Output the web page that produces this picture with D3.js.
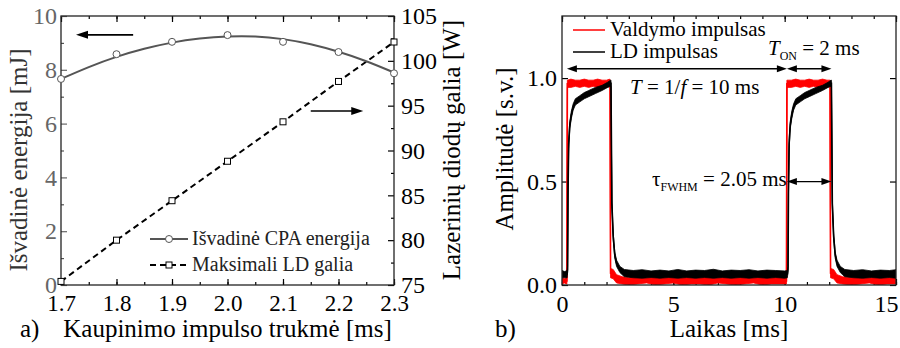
<!DOCTYPE html>
<html>
<head>
<meta charset="utf-8">
<script src="https://cdn.jsdelivr.net/npm/d3@7/dist/d3.min.js"></script>
</head>
<body style="margin:0;background:#fff">
<svg id="fig" width="900" height="348" style="display:block;font-family:'Liberation Serif',serif"></svg>
<script>
// ---------- Panel a: output energy and LD power vs pump pulse duration ----------
const pumpDuration = [1.7, 1.8, 1.9, 2.0, 2.1, 2.2, 2.3];
const cpaEnergy    = [7.66, 8.58, 9.04, 9.29, 9.04, 8.66, 7.87];
const ldPower      = [75.4, 80.0, 84.4, 88.8, 93.2, 97.7, 102.1];
// smooth trend drawn through the energy points
const fitDuration  = [1.70, 1.75, 1.80, 1.85, 1.90, 1.95, 2.00, 2.05, 2.10, 2.15, 2.20, 2.25, 2.30];
const fitEnergy    = [7.66, 8.10, 8.48, 8.78, 9.01, 9.16, 9.24, 9.24, 9.14, 8.95, 8.67, 8.32, 7.90];
const durationTicks = [1.7, 1.8, 1.9, 2.0, 2.1, 2.2, 2.3];
const energyTicks   = [0, 2, 4, 6, 8, 10];
const powerTicks    = [75, 80, 85, 90, 95, 100, 105];
const legendA = ["Išvadinė CPA energija", "Maksimali LD galia"];

// ---------- Panel b: control pulse and LD pulse traces ----------
// each trace is stored as its noise band: time [ms], lower and upper amplitude
const ctrlTime = [0, 0.1, 0.2, 0.22, 0.24, 0.4, 0.6, 0.8, 1.0, 1.2, 1.4, 1.6, 1.8, 2.0, 2.14, 2.16, 2.18, 2.3, 2.45,
  2.7, 3.0, 3.4, 3.8, 4.2, 4.6, 5.0, 5.4, 5.8, 6.2, 6.6, 7.0, 7.4, 7.8, 8.2, 8.6, 9.0, 9.4, 9.8, 10.06, 10.08, 10.10,
  10.3, 10.5, 10.7, 10.9, 11.1, 11.3, 11.5, 11.7, 11.9, 12.02, 12.04, 12.06, 12.2, 12.35, 12.6, 13.0, 13.4, 13.8, 14.2, 14.6, 15.0];
const ctrlLow  = [0.005, 0.01, 0.005, 0.005, 0.955, 0.955, 0.96, 0.955, 0.96, 0.955, 0.96, 0.955, 0.96, 0.955, 0.96, 0.955, 0.035, 0.03, 0.01,
  0.005, 0.0, 0.005, 0.01, 0.0, 0.005, 0.01, 0.0, 0.005, 0.005, 0.0, 0.01, 0.005, 0.0, 0.005, 0.01, 0.0, 0.005, 0.005, 0.005, 0.005, 0.955,
  0.955, 0.96, 0.955, 0.96, 0.955, 0.96, 0.955, 0.96, 0.955, 0.96, 0.955, 0.035, 0.03, 0.01, 0.005, 0.0, 0.005, 0.01, 0.0, 0.005, 0.005];
const ctrlHigh = [0.035, 0.03, 0.035, 0.035, 0.99, 0.995, 0.99, 0.99, 0.995, 0.99, 0.99, 0.995, 0.99, 0.99, 0.995, 0.99, 0.08, 0.075, 0.05,
  0.04, 0.035, 0.04, 0.035, 0.04, 0.035, 0.04, 0.035, 0.04, 0.035, 0.04, 0.035, 0.04, 0.035, 0.04, 0.035, 0.04, 0.035, 0.04, 0.035, 0.035, 0.99,
  0.99, 0.995, 0.99, 0.99, 0.995, 0.99, 0.99, 0.995, 0.99, 0.99, 0.99, 0.08, 0.075, 0.05, 0.04, 0.035, 0.04, 0.035, 0.04, 0.035, 0.04];

const ldTime = [0, 0.12, 0.23, 0.25, 0.27, 0.30, 0.35, 0.42, 0.5, 0.6, 0.8, 1.0, 1.2, 1.5, 1.8, 2.05, 2.18, 2.20, 2.24, 2.30, 2.37, 2.45,
  2.6, 2.8, 3.2, 3.6, 4.0, 4.4, 4.8, 5.2, 5.6, 6.0, 6.4, 6.8, 7.2, 7.6, 8.0, 8.4, 8.8, 9.2, 9.6, 10.0, 10.12, 10.15, 10.17, 10.20,
  10.25, 10.32, 10.4, 10.5, 10.7, 10.9, 11.1, 11.4, 11.7, 11.95, 12.08, 12.10, 12.14, 12.20, 12.27, 12.35, 12.5, 12.7, 13.1,
  13.5, 13.9, 14.3, 14.7, 15.0];
const ldLow  = [0.035, 0.035, 0.035, 0.06, 0.43, 0.66, 0.755, 0.805, 0.845, 0.87, 0.885, 0.9, 0.91, 0.925, 0.94, 0.955, 0.96, 0.96, 0.38, 0.22, 0.13, 0.09,
  0.06, 0.04, 0.035, 0.033, 0.036, 0.033, 0.036, 0.033, 0.036, 0.033, 0.036, 0.033, 0.036, 0.033, 0.036, 0.033, 0.036, 0.033, 0.036, 0.033, 0.035, 0.06, 0.43, 0.66,
  0.755, 0.805, 0.845, 0.87, 0.885, 0.9, 0.91, 0.925, 0.94, 0.955, 0.96, 0.96, 0.38, 0.22, 0.13, 0.09, 0.06, 0.04, 0.035,
  0.033, 0.036, 0.033, 0.036, 0.033];
const ldHigh = [0.07, 0.065, 0.07, 0.09, 0.46, 0.7, 0.79, 0.84, 0.875, 0.9, 0.915, 0.93, 0.94, 0.955, 0.965, 0.98, 0.99, 0.99, 0.41, 0.25, 0.16, 0.12,
  0.09, 0.075, 0.07, 0.074, 0.068, 0.072, 0.068, 0.075, 0.068, 0.072, 0.07, 0.076, 0.068, 0.072, 0.07, 0.074, 0.068, 0.072, 0.07, 0.068, 0.07, 0.09, 0.46, 0.7,
  0.79, 0.84, 0.875, 0.9, 0.915, 0.93, 0.94, 0.955, 0.965, 0.98, 0.99, 0.99, 0.41, 0.25, 0.16, 0.12, 0.09, 0.075, 0.07,
  0.074, 0.068, 0.072, 0.07, 0.074];

const timeTicks = [0, 5, 10, 15];
const ampTicks  = [0.0, 0.5, 1.0];
const legendB = ["Valdymo impulsas", "LD impulsas"];
// annotation markers: period start/end, pulse end, arrow levels
const periodStart = 0.22, periodEnd = 10.1, pulseEnd = 12.1;
const periodArrowLevel = 1.045, fwhmArrowLevel = 0.5;

const FONT = "Liberation Serif";
const svg = d3.select("#fig");

function arrowHead(g, x, y, dir, len, half, color) {
  g.append("path")
    .attr("d", `M${x},${y} L${x - dir * len},${y - half} L${x - dir * len},${y + half} Z`)
    .attr("fill", color);
}

function styleAxis(g, color, fontSize) {
  g.attr("font-family", null).style("font-family", FONT);
  g.select(".domain").remove();
  g.selectAll(".tick line").attr("stroke", color).attr("stroke-width", 1.2);
  g.selectAll(".tick text").attr("fill", color).attr("font-size", fontSize).style("font-family", FONT);
}

function label(g, x, y, size, str) {
  return g.append("text").attr("x", x).attr("y", y).attr("font-size", size)
    .style("font-family", FONT).text(str);
}

// ================= Panel a =================
{
  const L = 61, R = 394, T = 16, B = 285;
  const x = d3.scaleLinear().domain([1.7, 2.3]).range([L, R]);
  const yE = d3.scaleLinear().domain([0, 10]).range([B, T]);
  const yP = d3.scaleLinear().domain([75, 105]).range([B, T]);
  const g = svg.append("g");
  const grey = "#555";

  // minor ticks
  const minorX = d3.range(1.7, 2.3001, 0.05);
  g.append("g").attr("transform", `translate(0,${B})`)
    .call(d3.axisBottom(x).tickValues(minorX).tickSize(-3).tickFormat(""))
    .call(a => styleAxis(a, "#000", 0));
  g.append("g").attr("transform", `translate(0,${T})`)
    .call(d3.axisTop(x).tickValues(minorX).tickSize(-3).tickFormat(""))
    .call(a => styleAxis(a, "#000", 0));
  g.append("g").attr("transform", `translate(${L},0)`)
    .call(d3.axisLeft(yE).tickValues(d3.range(1, 10, 2)).tickSize(-3).tickFormat(""))
    .call(a => styleAxis(a, grey, 0));
  g.append("g").attr("transform", `translate(${R},0)`)
    .call(d3.axisRight(yP).tickValues(d3.range(77.5, 105, 5)).tickSize(-3).tickFormat(""))
    .call(a => styleAxis(a, "#000", 0));

  // major ticks
  g.append("g").attr("transform", `translate(0,${B})`)
    .call(d3.axisBottom(x).tickValues(durationTicks).tickSize(-6).tickPadding(10).tickFormat(d3.format(".1f")))
    .call(a => styleAxis(a, "#000", 23));
  g.append("g").attr("transform", `translate(0,${T})`)
    .call(d3.axisTop(x).tickValues(durationTicks).tickSize(-6).tickFormat(""))
    .call(a => styleAxis(a, "#000", 0));
  g.append("g").attr("transform", `translate(${L},0)`)
    .call(d3.axisLeft(yE).tickValues(energyTicks).tickSize(-6).tickPadding(4).tickFormat(d3.format("d")))
    .call(a => styleAxis(a, "#666", 24));
  g.append("g").attr("transform", `translate(${R},0)`)
    .call(d3.axisRight(yP).tickValues(powerTicks).tickSize(-6).tickPadding(7).tickFormat(d3.format("d")))
    .call(a => styleAxis(a, "#000", 24));

  // frame
  g.append("rect").attr("x", L).attr("y", T).attr("width", R - L).attr("height", B - T)
    .attr("fill", "none").attr("stroke", "#222").attr("stroke-width", 1.3);

  // LD power: dashed line with open squares
  const powerPts = pumpDuration.map((d, i) => [d, ldPower[i]]);
  g.append("path").datum(powerPts)
    .attr("d", d3.line().x(d => x(d[0])).y(d => yP(d[1])))
    .attr("fill", "none").attr("stroke", "#000").attr("stroke-width", 2).attr("stroke-dasharray", "6,4");
  g.selectAll(".sq").data(powerPts).join("rect")
    .attr("x", d => x(d[0]) - 3).attr("y", d => yP(d[1]) - 3).attr("width", 6).attr("height", 6)
    .attr("fill", "#fff").attr("stroke", "#000").attr("stroke-width", 1);

  // energy trend and points
  const fitPts = fitDuration.map((d, i) => [d, fitEnergy[i]]);
  g.append("path").datum(fitPts)
    .attr("d", d3.line().x(d => x(d[0])).y(d => yE(d[1])).curve(d3.curveNatural))
    .attr("fill", "none").attr("stroke", grey).attr("stroke-width", 2);
  g.selectAll(".ci").data(pumpDuration.map((d, i) => [d, cpaEnergy[i]])).join("circle")
    .attr("cx", d => x(d[0])).attr("cy", d => yE(d[1])).attr("r", 3.5)
    .attr("fill", "#fff").attr("stroke", grey).attr("stroke-width", 1);

  // axis-assignment arrows
  const ay = yE(9.3);
  g.append("line").attr("x1", x(1.83)).attr("x2", x(1.7) + 20).attr("y1", ay).attr("y2", ay)
    .attr("stroke", "#000").attr("stroke-width", 1.6);
  arrowHead(g, x(1.7) + 15, ay, -1, 12, 4, "#000");
  const by = yP(94.4);
  g.append("line").attr("x1", x(2.15)).attr("x2", x(2.25) - 10).attr("y1", by).attr("y2", by)
    .attr("stroke", "#000").attr("stroke-width", 1.6);
  arrowHead(g, x(2.25) - 3, by, 1, 12, 4, "#000");

  // legend
  const lx = 150, lw = 38;
  const l1 = 239, l2 = 265;
  g.append("line").attr("x1", lx).attr("x2", lx + lw).attr("y1", l1).attr("y2", l1)
    .attr("stroke", grey).attr("stroke-width", 2);
  g.append("circle").attr("cx", lx + lw / 2).attr("cy", l1).attr("r", 3.5)
    .attr("fill", "#fff").attr("stroke", grey);
  g.append("line").attr("x1", lx).attr("x2", lx + lw).attr("y1", l2).attr("y2", l2)
    .attr("stroke", "#000").attr("stroke-width", 2).attr("stroke-dasharray", "6,4");
  g.append("rect").attr("x", lx + lw / 2 - 3).attr("y", l2 - 3).attr("width", 6).attr("height", 6)
    .attr("fill", "#fff").attr("stroke", "#000");
  label(g, 192, l1 + 6, 20, legendA[0]).attr("fill", "#222");
  label(g, 192, l2 + 6, 20, legendA[1]).attr("fill", "#222");

  // axis titles
  label(g, (L + R) / 2, 337, 25, "Kaupinimo impulso trukmė [ms]").attr("text-anchor", "middle");
  label(g, 20, 337, 25, "a)");
  label(g, 0, 0, 25, "Išvadinė energija [mJ]").attr("fill", "#333")
    .attr("transform", "translate(27,160) rotate(-90)").attr("text-anchor", "middle");
  label(g, 0, 0, 25, "Lazerinių diodų galia [W]")
    .attr("transform", "translate(460,150) rotate(-90)").attr("text-anchor", "middle");
}

// ================= Panel b =================
{
  const L = 562, R = 896, T = 16, B = 285;
  const x = d3.scaleLinear().domain([0, 15]).range([L, R]);
  const y = d3.scaleLinear().domain([0, 1.3]).range([B, T]);
  const g = svg.append("g");

  const minorT = d3.range(0, 15.001, 1);
  g.append("g").attr("transform", `translate(0,${B})`)
    .call(d3.axisBottom(x).tickValues(minorT).tickSize(-3).tickFormat(""))
    .call(a => styleAxis(a, "#000", 0));
  g.append("g").attr("transform", `translate(0,${T})`)
    .call(d3.axisTop(x).tickValues(minorT).tickSize(-3).tickFormat(""))
    .call(a => styleAxis(a, "#000", 0));
  g.append("g").attr("transform", `translate(0,${B})`)
    .call(d3.axisBottom(x).tickValues(timeTicks).tickSize(-6).tickPadding(10).tickFormat(d3.format("d")))
    .call(a => styleAxis(a, "#000", 24))
    .call(a => a.selectAll(".tick text").filter(d => d === 15).attr("text-anchor", "end").attr("x", 2));
  g.append("g").attr("transform", `translate(0,${T})`)
    .call(d3.axisTop(x).tickValues(timeTicks).tickSize(-6).tickFormat(""))
    .call(a => styleAxis(a, "#000", 0));
  g.append("g").attr("transform", `translate(${L},0)`)
    .call(d3.axisLeft(y).tickValues(ampTicks).tickSize(-6).tickPadding(5).tickFormat(d3.format(".1f")))
    .call(a => styleAxis(a, "#000", 24));
  g.append("g").attr("transform", `translate(${R},0)`)
    .call(d3.axisRight(y).tickValues(ampTicks).tickSize(-6).tickFormat(""))
    .call(a => styleAxis(a, "#000", 0));

  // traces, clipped to the plot area
  svg.append("clipPath").attr("id", "clipB").append("rect")
    .attr("x", L).attr("y", T).attr("width", R - L).attr("height", B - T);
  const traces = g.append("g").attr("clip-path", "url(#clipB)");

  function drawTrace(time, lo, hi, color) {
    const pts = time.map((t, i) => ({ t, lo: lo[i], hi: hi[i] }));
    traces.append("path").datum(pts)
      .attr("d", d3.area().x(d => x(d.t)).y0(d => y(d.lo)).y1(d => y(d.hi)))
      .attr("fill", color).attr("stroke", color).attr("stroke-width", 0.8);
    traces.append("path").datum(pts)
      .attr("d", d3.line().x(d => x(d.t)).y(d => y((d.lo + d.hi) / 2)))
      .attr("fill", "none").attr("stroke", color).attr("stroke-width", 1.6);
  }
  drawTrace(ctrlTime, ctrlLow, ctrlHigh, "#ff0000");
  drawTrace(ldTime, ldLow, ldHigh, "#000");

  // frame
  g.append("rect").attr("x", L).attr("y", T).attr("width", R - L).attr("height", B - T)
    .attr("fill", "none").attr("stroke", "#222").attr("stroke-width", 1.3);

  // legend
  g.append("line").attr("x1", 573).attr("x2", 605).attr("y1", 30).attr("y2", 30)
    .attr("stroke", "#ff0000").attr("stroke-width", 1.5);
  g.append("line").attr("x1", 573).attr("x2", 605).attr("y1", 52).attr("y2", 52)
    .attr("stroke", "#000").attr("stroke-width", 1.5);
  label(g, 610, 36, 21, legendB[0]);
  label(g, 610, 58, 21, legendB[1]);

  // period and pulse-width arrows
  function doubleArrow(x1, x2, yy) {
    g.append("line").attr("x1", x1 + 4).attr("x2", x2 - 4).attr("y1", yy).attr("y2", yy)
      .attr("stroke", "#000").attr("stroke-width", 1.3);
    arrowHead(g, x1, yy, -1, 10, 3.5, "#000");
    arrowHead(g, x2, yy, 1, 10, 3.5, "#000");
  }
  const pa = y(periodArrowLevel);
  doubleArrow(x(periodStart), x(periodEnd), pa);
  doubleArrow(x(periodEnd), x(pulseEnd), pa);
  doubleArrow(x(periodEnd), x(pulseEnd), y(fwhmArrowLevel));

  const t1 = label(g, 630, 94, 21, null);
  t1.append("tspan").attr("font-style", "italic").text("T");
  t1.append("tspan").text(" = 1/");
  t1.append("tspan").attr("font-style", "italic").text("f");
  t1.append("tspan").text(" = 10 ms");

  const t2 = label(g, 768, 55, 21, null);
  t2.append("tspan").attr("font-style", "italic").text("T");
  t2.append("tspan").attr("font-size", 12).attr("dy", 5).text("ON");
  t2.append("tspan").attr("dy", -5).text(" = 2 ms");

  const t3 = label(g, 652, 186, 21, null);
  t3.append("tspan").text("τ");
  t3.append("tspan").attr("font-size", 12).attr("dy", 5).text("FWHM");
  t3.append("tspan").attr("dy", -5).text(" = 2.05 ms");

  // axis titles
  label(g, (L + R) / 2, 337, 25, "Laikas [ms]").attr("text-anchor", "middle");
  label(g, 495, 337, 25, "b)");
  label(g, 0, 0, 25, "Amplitudė [s.v.]")
    .attr("transform", "translate(513,149) rotate(-90)").attr("text-anchor", "middle");
}
</script>
</body>
</html>
